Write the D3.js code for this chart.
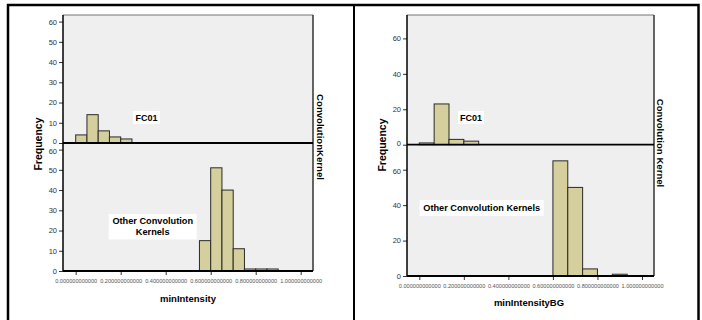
<!DOCTYPE html>
<html>
<head>
<meta charset="utf-8">
<script src="https://cdn.jsdelivr.net/npm/d3@7"></script>
<style>
  body { margin: 0; background: #fff; }
  text { font-family: "Liberation Sans", Arial, sans-serif; }
</style>
</head>
<body>
<script>

// x tick values (same for both charts)
var xTicks = [0, 0.2, 0.4, 0.6, 0.8, 1.0];

// minIntensity, bin width 0.05
var miWidth = 0.05;
var miFcStart = [0, 0.05, 0.10, 0.15, 0.20];
var miFcCount = [4, 14, 6, 3, 2];
var miOtherStart = [0.55, 0.60, 0.65, 0.70, 0.75, 0.80, 0.85];
var miOtherCount = [15, 51, 40, 11, 1, 1, 1];
var miYTicks = [0, 10, 20, 30, 40, 50, 60];

// minIntensityBG, bin width 1/15
var bgWidth = 0.0667;
var bgFcStart = [0, 0.0667, 0.1333, 0.2];
var bgFcCount = [1, 23, 3, 2];
var bgOtherStart = [0.6, 0.6667, 0.7333, 0.8667];
var bgOtherCount = [65, 50, 4, 1];
var bgYTicks = [0, 20, 40, 60];

var W = 702, H = 320;
var svg = d3.select("body").append("svg")
    .attr("width", W)
    .attr("height", H);

// outer frame
svg.append("rect").attr("x", 8).attr("y", 5).attr("width", 690.5).attr("height", 320)
    .attr("fill", "none").attr("stroke", "#000").attr("stroke-width", 2.5);
svg.append("line").attr("x1", 354).attr("x2", 354).attr("y1", 5).attr("y2", 320)
    .attr("stroke", "#000").attr("stroke-width", 2);

var barFill = "#d4cf9c";
var fmt = d3.format(".12f");

function panel(p) {
  var g = svg.append("g");
  var x = d3.scaleLinear().domain([0, 1]).range([p.x0v, p.x1v]);
  var yTop = d3.scaleLinear().domain([0, 60]).range([p.mid, p.mid - p.px60]);
  var yBot = d3.scaleLinear().domain([0, 60]).range([p.bottom, p.bottom - p.px60]);

  // plot backgrounds
  g.append("rect").attr("x", p.left).attr("y", p.top)
    .attr("width", p.right - p.left).attr("height", p.bottom - p.top)
    .attr("fill", "#efefef");
  g.append("line").attr("x1", p.left).attr("x2", p.right).attr("y1", p.top).attr("y2", p.top)
    .attr("stroke", "#777").attr("stroke-width", 1.2);
  g.append("line").attr("x1", p.right).attr("x2", p.right).attr("y1", p.top).attr("y2", p.bottom)
    .attr("stroke", "#333").attr("stroke-width", 1.5);

  function bars(starts, counts, y) {
    g.selectAll(null).data(starts).enter().append("rect")
      .attr("x", function(d) { return x(d); })
      .attr("width", function(d) { return x(d + p.bw) - x(d); })
      .attr("y", function(d, i) { return y(counts[i]); })
      .attr("height", function(d, i) { return y(0) - y(counts[i]); })
      .attr("fill", barFill)
      .attr("stroke", "#2a2a2a")
      .attr("stroke-width", 1);
  }
  bars(p.fcStart, p.fcCount, yTop);
  bars(p.otherStart, p.otherCount, yBot);

  // panel divider (zero line of the top panel)
  g.append("line").attr("x1", p.left).attr("x2", p.right).attr("y1", p.mid).attr("y2", p.mid)
    .attr("stroke", "#000").attr("stroke-width", 1.8);

  // y axes
  [yTop, yBot].forEach(function(y, k) {
    var ax = g.append("g").attr("transform", "translate(" + p.left + ",0)")
      .call(d3.axisLeft(y).tickValues(p.yTicks).tickSize(4).tickPadding(2).tickFormat(d3.format("d")));
    ax.select(".domain").remove();
    ax.selectAll("text").attr("font-size", 7.5).attr("fill", "#333")
      .attr("font-family", "'Liberation Sans Narrow', 'Liberation Sans', sans-serif");
    ax.selectAll("line").attr("stroke", "#333");
    // the top panel's 0 and the bottom panel's 60 sit close together
    if (k == 0) ax.selectAll(".tick text").filter(function(d) { return d == 0; }).attr("dy", "0.1em");
    if (k == 1) ax.selectAll(".tick text").filter(function(d) { return d == 60; }).attr("dy", "0.5em");
  });
  g.append("line").attr("x1", p.left).attr("x2", p.left).attr("y1", p.top).attr("y2", p.bottom)
    .attr("stroke", "#000").attr("stroke-width", 1.5);

  // x axis
  var xa = g.append("g").attr("transform", "translate(0," + p.bottom + ")")
    .call(d3.axisBottom(x).tickValues(xTicks).tickSize(4).tickPadding(4).tickFormat(fmt));
  xa.select(".domain").remove();
  xa.selectAll("text").attr("font-size", 5.6).attr("fill", "#555");
  xa.selectAll("line").attr("stroke", "#333");
  g.append("line").attr("x1", p.left).attr("x2", p.right).attr("y1", p.bottom).attr("y2", p.bottom)
    .attr("stroke", "#000").attr("stroke-width", 1.8);

  // titles
  g.append("text").attr("x", p.xTitleX).attr("y", p.xTitleY)
    .attr("text-anchor", "middle").attr("font-weight", "bold").attr("font-size", 9.5)
    .text(p.xTitle);
  g.append("text")
    .attr("transform", "translate(" + p.yTitleX + "," + p.yTitleY + ") rotate(-90)")
    .attr("text-anchor", "middle").attr("font-weight", "bold").attr("font-size", 10.5)
    .text("Frequency");
  g.append("text")
    .attr("transform", "translate(" + p.stripX + "," + p.stripY + ") rotate(90)")
    .attr("text-anchor", "middle").attr("font-weight", "bold").attr("font-size", 9.6)
    .text(p.stripText);

  // panel labels in white boxes
  function label(lines, cx, cy, bw, bh, fs) {
    g.append("rect").attr("x", cx - bw / 2).attr("y", cy - bh / 2)
      .attr("width", bw).attr("height", bh).attr("fill", "#fff");
    var t = g.append("text").attr("text-anchor", "middle")
      .attr("font-weight", "bold").attr("font-size", fs);
    lines.forEach(function(s, i) {
      t.append("tspan").attr("x", cx)
        .attr("y", cy + (i - (lines.length - 1) / 2) * 11 + fs * 0.35)
        .text(s);
    });
  }
  p.labels.forEach(function(l) { label(l.lines, l.cx, l.cy, l.w, l.h, l.fs); });
}

panel({
  left: 63, right: 313, top: 15, mid: 143, bottom: 271,
  x0v: 75.7, x1v: 300.7, px60: 121.4, bw: miWidth,
  fcStart: miFcStart, fcCount: miFcCount,
  otherStart: miOtherStart, otherCount: miOtherCount,
  yTicks: miYTicks,
  xTitle: "minIntensity", xTitleX: 188, xTitleY: 302,
  yTitleX: 42, yTitleY: 144,
  stripText: "ConvolutionKernel", stripX: 317, stripY: 137,
  labels: [
    {lines: ["FC01"], cx: 146.5, cy: 117.5, w: 27, h: 13, fs: 9},
    {lines: ["Other Convolution", "Kernels"], cx: 152.7, cy: 226.7, w: 88, h: 25.5, fs: 9.2}
  ]
});

panel({
  left: 407, right: 654, top: 15, mid: 144.7, bottom: 276,
  x0v: 419.3, x1v: 642, px60: 106.3, bw: bgWidth,
  fcStart: bgFcStart, fcCount: bgFcCount,
  otherStart: bgOtherStart, otherCount: bgOtherCount,
  yTicks: bgYTicks,
  xTitle: "minIntensityBG", xTitleX: 529, xTitleY: 306,
  yTitleX: 386, yTitleY: 145,
  stripText: "Convolution Kernel", stripX: 657, stripY: 143,
  labels: [
    {lines: ["FC01"], cx: 471, cy: 117.5, w: 26, h: 13, fs: 9},
    {lines: ["Other Convolution Kernels"], cx: 481.7, cy: 208, w: 124, h: 16, fs: 9.2}
  ]
});

</script>
</body>
</html>
